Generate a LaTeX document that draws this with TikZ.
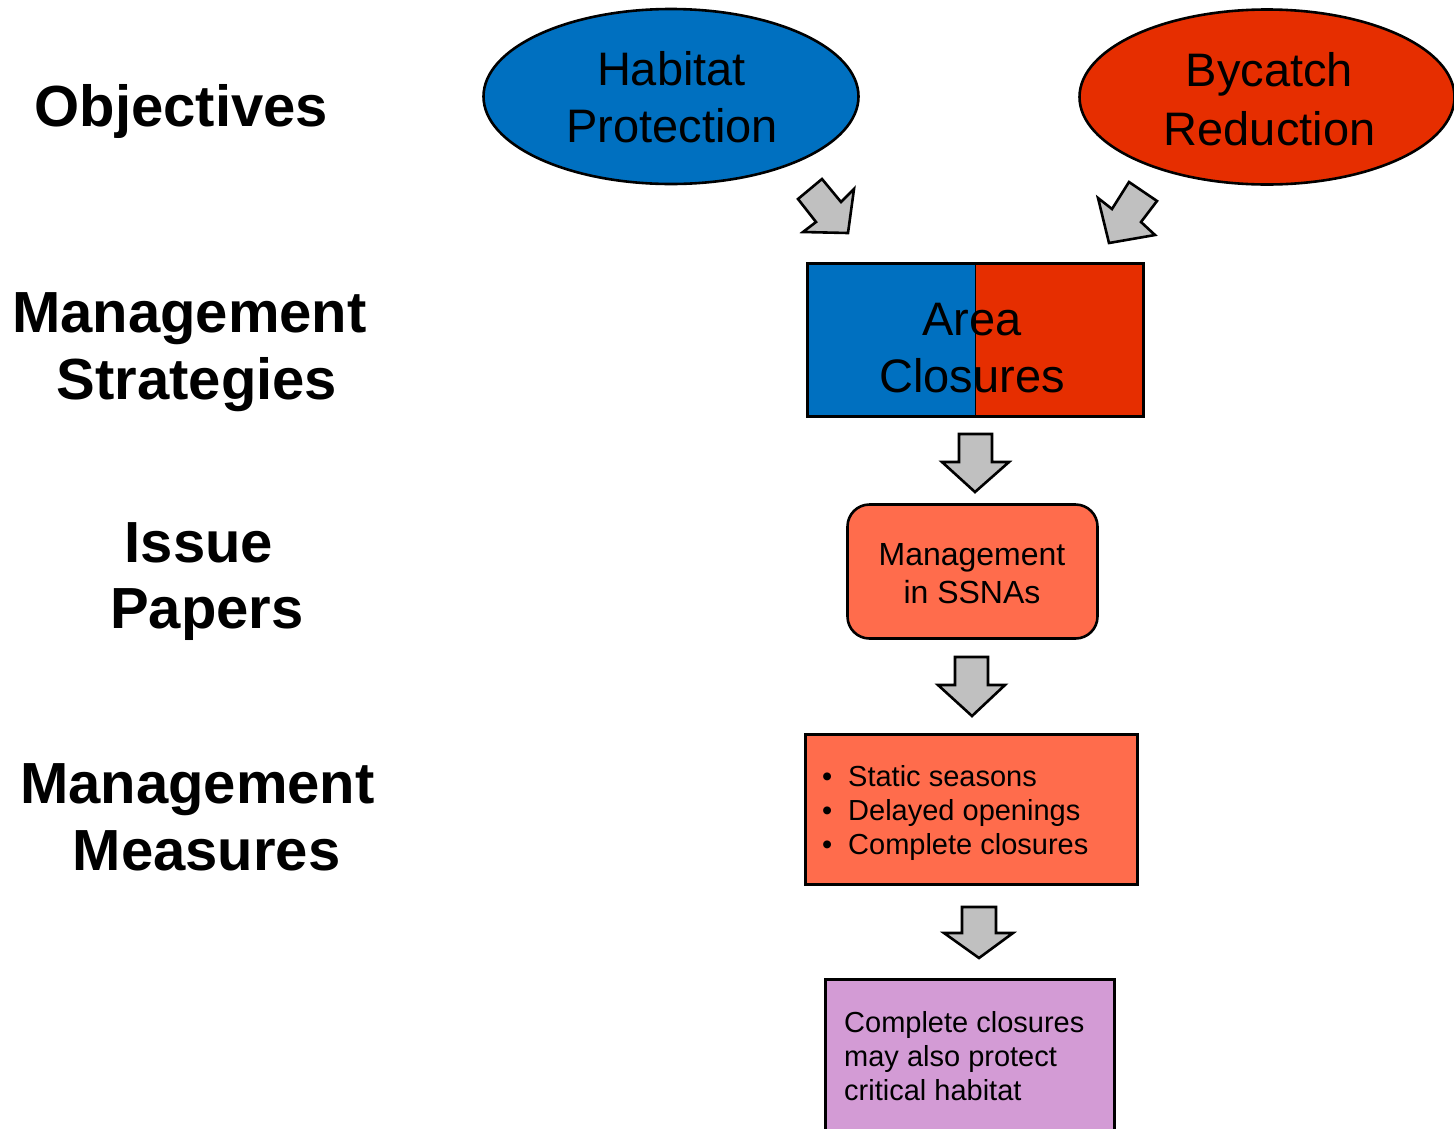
\documentclass[tikz,border=0pt]{standalone}
\usepackage{fontspec}
\setmainfont{Liberation Sans}
\usetikzlibrary{shapes.geometric}
\definecolor{objblue}{RGB}{0,112,192}
\definecolor{objred}{RGB}{230,46,0}
\definecolor{coral}{RGB}{255,108,76}
\definecolor{lilac}{RGB}{211,155,213}
\definecolor{arrowgray}{RGB}{192,192,192}
\begin{document}
\begin{tikzpicture}[x=1pt,y=-1pt,
  heading/.style={font=\fontsize{58}{67}\selectfont\bfseries, anchor=base, inner sep=0pt},
  bigtext/.style={font=\fontsize{47}{57}\selectfont, anchor=base, inner sep=0pt},
  midtext/.style={font=\fontsize{32}{38}\selectfont, anchor=base, inner sep=0pt},
  smalltext/.style={font=\fontsize{29}{34}\selectfont, anchor=base west, inner sep=0pt},
  box/.style={draw=black, line width=2.6pt, inner sep=0pt, outer sep=0pt},
  blockarrow/.style={draw=black, fill=arrowgray, line width=2.6pt, line join=miter}]
\useasboundingbox (0,0) rectangle (1454,1128);
\clip (0,0) rectangle (1454,1128);

% left column labels
\node[heading] (objectives) at (181.5,126) {Objectives};
\node[heading] (strat1) at (189.5,332) {Management};
\node[heading] (strat2) at (197,399) {Strategies};
\node[heading] (issue1) at (199,562) {Issue};
\node[heading] (issue2) at (207,628) {Papers};
\node[heading] (meas1) at (197.5,803) {Management};
\node[heading] (meas2) at (206.5,870) {Measures};

% objectives
\node[box, ellipse, fill=objblue, minimum width=375, minimum height=175] (habitat) at (671,96.5) {};
\node[box, ellipse, fill=objred, minimum width=375, minimum height=175] (bycatch) at (1267,97) {};
\node[bigtext] (hab1) at (671.5,85) {Habitat};
\node[bigtext] (hab2) at (672,142) {Protection};
\node[bigtext] (by1) at (1269.5,86) {Bycatch};
\node[bigtext] (by2) at (1269.5,145) {Reduction};

% strategy box
\node[box, minimum width=336, minimum height=153,
  path picture={
    \fill[objblue] (path picture bounding box.north west) rectangle ([xshift=-0.5pt]path picture bounding box.south);
    \fill[objred] ([xshift=-0.5pt]path picture bounding box.north) rectangle (path picture bounding box.south east);
  }] (area) at (975.5,340) {};
\draw[line width=1pt] ([xshift=-0.5pt]area.north) -- ([xshift=-0.5pt]area.south);
\node[bigtext] (area1) at (972,335) {Area};
\node[bigtext] (area2) at (972,392) {Closures};

% issue paper box
\node[box, rounded corners=22pt, fill=coral, minimum width=250, minimum height=134] (ssna) at (972.5,571.5) {};
\node[midtext] (ssna1) at (972,565) {Management};
\node[midtext] (ssna2) at (972,603) {in SSNAs};

% measures box
\node[box, fill=coral, minimum width=332, minimum height=150] (measures) at (971.5,809.5) {};
\node[smalltext] (m1) at (822,786) {\makebox[26pt][l]{•}Static seasons};
\node[smalltext] (m2) at (822,820) {\makebox[26pt][l]{•}Delayed openings};
\node[smalltext] (m3) at (822,854) {\makebox[26pt][l]{•}Complete closures};

% note box
\node[box, fill=lilac, minimum width=289, minimum height=200, anchor=north] (note) at (970,979.5) {};
\node[smalltext] (n1) at (844,1032) {Complete closures};
\node[smalltext] (n2) at (844,1066) {may also protect};
\node[smalltext] (n3) at (844,1100) {critical habitat};

% block arrows
\draw[blockarrow] (822,179) -- (841,202) -- (854,189) -- (848,233) -- (803,232) -- (816,222) -- (798,199) -- cycle;
\draw[blockarrow] (1129,182) -- (1157,201) -- (1141,222) -- (1155,235) -- (1109,243) -- (1098,198) -- (1112,209) -- cycle;
\draw[blockarrow] (959,434) -- (992,434) -- (992,462) -- (1009,462) -- (975,492) -- (942,462) -- (959,462) -- cycle;
\draw[blockarrow] (955,657) -- (988,657) -- (988,685) -- (1005,685) -- (972,716) -- (938,685) -- (955,685) -- cycle;
\draw[blockarrow] (962,907) -- (996,907) -- (996,933) -- (1013,933) -- (979,958) -- (944,933) -- (962,933) -- cycle;
\end{tikzpicture}
\end{document}
